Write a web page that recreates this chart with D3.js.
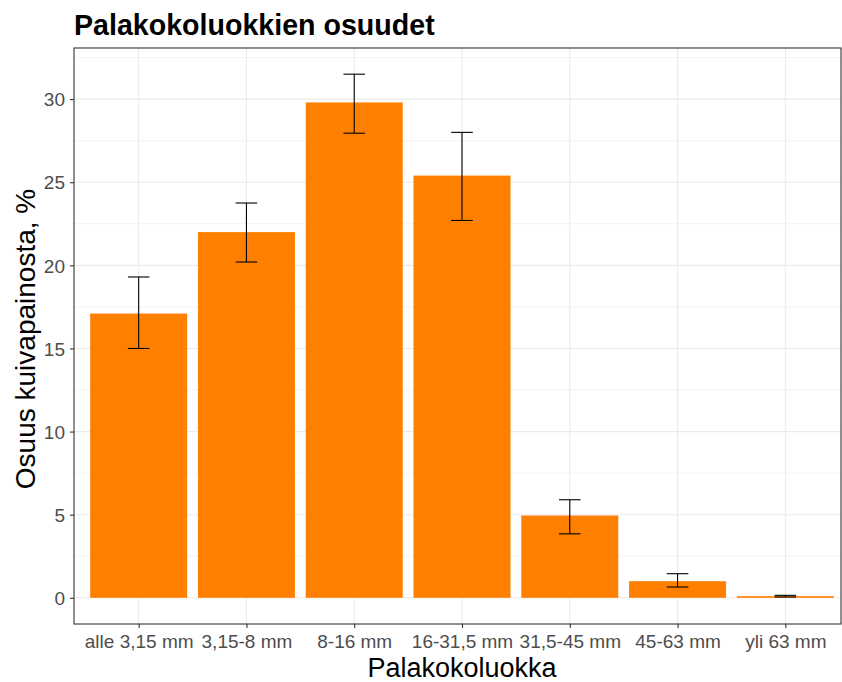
<!DOCTYPE html>
<html><head><meta charset="utf-8">
<script src="https://cdn.jsdelivr.net/npm/d3@7"></script>
<style>body{margin:0;background:#fff;} svg{display:block;}</style>
</head><body>
<script>
const categories = ["alle 3,15 mm","3,15-8 mm","8-16 mm","16-31,5 mm","31,5-45 mm","45-63 mm","yli 63 mm"];
const values = [17.1, 22.0, 29.8, 25.4, 4.95, 1.0, 0.1];
const errLow = [15.0, 20.2, 27.95, 22.7, 3.85, 0.65, 0.05];
const errHigh = [19.3, 23.75, 31.5, 28.0, 5.9, 1.45, 0.15];
const yTicks = [0, 5, 10, 15, 20, 25, 30];
const yMinor = [2.5, 7.5, 12.5, 17.5, 22.5, 27.5, 32.5];

const W = 842, H = 682;
const m = {left: 74, top: 48, bottom: 58};
const svg = d3.select("body").append("svg").attr("width", W).attr("height", H);
const pw = 767; // visible panel width (panel runs to the image edge)
const ph = H - m.top - m.bottom;
const g = svg.append("g").attr("transform", `translate(${m.left},${m.top})`);

const ymax = 31.5, ex = ymax * 0.05;
const y = d3.scaleLinear().domain([-ex, ymax + ex]).range([ph, 0]);
const fullW = 776; // full panel width of the plot (slightly wider than the image)
const unit = fullW / (categories.length - 1 + 1.2);
const x = d3.scalePoint().domain(categories).range([0.6 * unit, fullW - 0.6 * unit]);

// grid
g.selectAll(".ymin").data(yMinor).join("line")
  .attr("x1", 0).attr("x2", pw).attr("y1", d => y(d)).attr("y2", d => y(d))
  .attr("stroke", "#ebebeb").attr("stroke-width", 0.6);
g.selectAll(".ymaj").data(yTicks).join("line")
  .attr("x1", 0).attr("x2", pw).attr("y1", d => y(d)).attr("y2", d => y(d))
  .attr("stroke", "#ebebeb").attr("stroke-width", 1.1);
g.selectAll(".xmaj").data(categories).join("line")
  .attr("y1", 0).attr("y2", ph).attr("x1", d => x(d)).attr("x2", d => x(d))
  .attr("stroke", "#ebebeb").attr("stroke-width", 1.1);

// bars
const bw = 0.9 * unit;
g.selectAll(".bar").data(categories).join("rect")
  .attr("x", d => x(d) - bw / 2).attr("width", bw)
  .attr("y", (d, i) => y(values[i])).attr("height", (d, i) => y(0) - y(values[i]))
  .attr("fill", "#FF8000");

// error bars
const cw = 0.2 * unit;
const eb = g.selectAll(".eb").data(categories).join("g");
eb.append("line").attr("x1", d => x(d)).attr("x2", d => x(d))
  .attr("y1", (d, i) => y(errLow[i])).attr("y2", (d, i) => y(errHigh[i]))
  .attr("stroke", "#000").attr("stroke-width", 1.1);
eb.append("line").attr("x1", d => x(d) - cw / 2).attr("x2", d => x(d) + cw / 2)
  .attr("y1", (d, i) => y(errLow[i])).attr("y2", (d, i) => y(errLow[i]))
  .attr("stroke", "#000").attr("stroke-width", 1.1);
eb.append("line").attr("x1", d => x(d) - cw / 2).attr("x2", d => x(d) + cw / 2)
  .attr("y1", (d, i) => y(errHigh[i])).attr("y2", (d, i) => y(errHigh[i]))
  .attr("stroke", "#000").attr("stroke-width", 1.1);

// border
g.append("rect").attr("x", 0).attr("y", 0).attr("width", pw).attr("height", ph)
  .attr("fill", "none").attr("stroke", "#333").attr("stroke-width", 1.1);

// axes
const font = "'Liberation Sans', Arial, sans-serif";
const ya = g.append("g").call(d3.axisLeft(y).tickValues(yTicks).tickSize(4).tickPadding(5).tickFormat(d3.format("d")));
const xa = g.append("g").attr("transform", `translate(0,${ph})`).call(d3.axisBottom(x).tickSize(4).tickPadding(4));
[ya, xa].forEach(a => {
  a.select(".domain").remove();
  a.selectAll(".tick line").attr("stroke", "#333").attr("stroke-width", 1.1);
  a.selectAll(".tick text").attr("fill", "#4d4d4d").style("font-family", font).style("font-size", "19px");
});
xa.selectAll(".tick text").attr("y", 24).attr("dy", "0");
ya.selectAll(".tick text").attr("dy", "0.35em");

svg.append("text").attr("x", m.left).attr("y", 35)
  .style("font-family", font).style("font-size", "28.6px").style("font-weight", "bold")
  .attr("fill", "#000").text("Palakokoluokkien osuudet");
svg.append("text").attr("x", m.left + fullW / 2).attr("y", 677).attr("text-anchor", "middle")
  .style("font-family", font).style("font-size", "27px").attr("fill", "#000").text("Palakokoluokka");
svg.append("text").attr("transform", `translate(35,${m.top + ph / 2 + 3}) rotate(-90)`).attr("text-anchor", "middle")
  .style("font-family", font).style("font-size", "28px").attr("fill", "#000").text("Osuus kuivapainosta, %");
</script>
</body></html>
